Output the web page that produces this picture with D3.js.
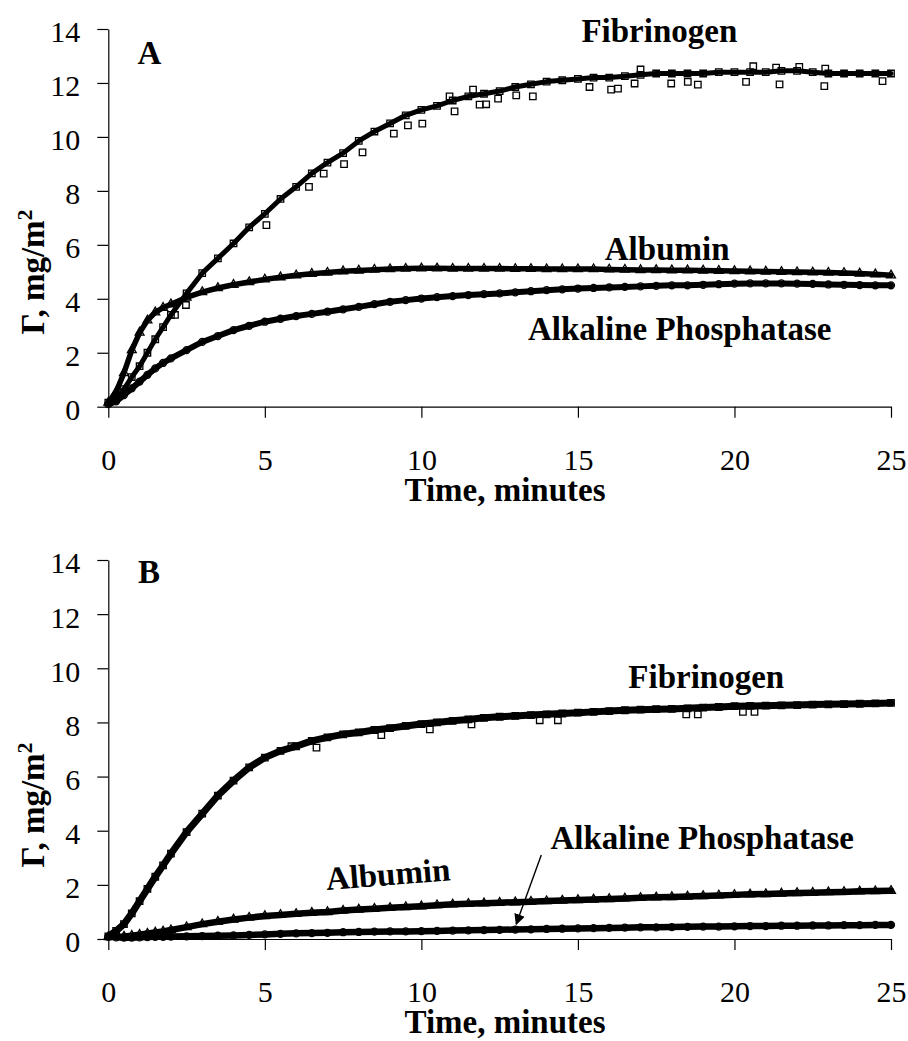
<!DOCTYPE html>
<html>
<head>
<meta charset="utf-8">
<script src="https://cdn.jsdelivr.net/npm/d3@7"></script>
</head>
<body style="margin:0;background:#fff">
<div id="vis"></div>
<script>
// time points (minutes) shared by every series
const timeGrid = [0, 0.25, 0.5, 0.75, 1, 1.25, 1.5, 1.75, 2, 2.5, 3, 3.5, 4, 4.5, 5, 5.5, 6, 6.5, 7, 7.5,
    8, 8.5, 9, 9.5, 10, 10.5, 11, 11.5, 12, 12.5, 13, 13.5, 14, 14.5, 15, 15.5, 16, 16.5, 17, 17.5,
    18, 18.5, 19, 19.5, 20, 20.5, 21, 21.5, 22, 22.5, 23, 23.5, 24, 24.5, 25];

// panel A, adsorbed amount (mg/m2)
const fibrinogenA = [0.15, 0.3, 0.65, 1.1, 1.5, 2.0, 2.5, 2.95, 3.4, 4.2, 4.95, 5.5, 6.05, 6.65, 7.15, 7.7, 8.15, 8.65, 9.05, 9.4,
    9.85, 10.2, 10.5, 10.8, 11.0, 11.15, 11.35, 11.5, 11.6, 11.7, 11.85, 11.95, 12.05, 12.1, 12.15, 12.2, 12.2, 12.25, 12.3, 12.35,
    12.35, 12.35, 12.35, 12.4, 12.4, 12.4, 12.4, 12.45, 12.45, 12.4, 12.35, 12.35, 12.35, 12.35, 12.35];
const albuminA = [0.15, 0.55, 1.25, 2.1, 2.75, 3.2, 3.5, 3.67, 3.8, 4.05, 4.25, 4.4, 4.52, 4.62, 4.72, 4.8, 4.87, 4.93, 4.97, 5.02,
    5.05, 5.08, 5.1, 5.12, 5.13, 5.13, 5.12, 5.12, 5.12, 5.12, 5.11, 5.11, 5.1, 5.1, 5.1, 5.1, 5.09, 5.08, 5.07, 5.07,
    5.06, 5.06, 5.05, 5.04, 5.03, 5.02, 5.01, 5.0, 4.99, 4.98, 4.97, 4.96, 4.94, 4.91, 4.87];
const alkPhosA = [0.1, 0.2, 0.43, 0.68, 0.93, 1.18, 1.42, 1.62, 1.79, 2.1, 2.4, 2.62, 2.84, 3.0, 3.15, 3.26, 3.36, 3.44, 3.52, 3.61,
    3.7, 3.8, 3.89, 3.95, 4.01, 4.06, 4.1, 4.14, 4.17, 4.2, 4.24, 4.28, 4.32, 4.35, 4.38, 4.4, 4.42, 4.44, 4.46, 4.48,
    4.5, 4.5, 4.52, 4.54, 4.56, 4.57, 4.57, 4.57, 4.56, 4.55, 4.53, 4.52, 4.51, 4.5, 4.5];
// stray fibrinogen squares seen off the band in panel A
const fibStrayTimeA = [2.13, 2.48, 5.05, 6.41, 6.88, 7.53, 8.12, 9.12, 9.57, 10.03, 10.9, 11.06, 11.65, 11.86, 12.07, 12.45,
    13.03, 13.56, 15.37, 16.06, 16.28, 16.81, 17.0, 17.98, 18.51, 18.83, 20.37, 20.6, 21.33, 21.44, 22.07, 22.87, 22.9, 24.73];
const fibStrayA = [3.4, 3.77, 6.73, 8.15, 8.64, 8.99, 9.43, 10.12, 10.43, 10.49, 11.5, 10.95, 11.75, 11.2, 11.21, 11.42,
    11.54, 11.5, 11.85, 11.75, 11.79, 11.98, 12.5, 11.98, 12.04, 11.94, 12.04, 12.62, 12.57, 11.95, 12.6, 11.88, 12.53, 12.07];

// panel B
const fibrinogenB = [0.1, 0.3, 0.55, 0.95, 1.4, 1.85, 2.3, 2.72, 3.15, 3.95, 4.63, 5.3, 5.85, 6.34, 6.7, 6.95, 7.12, 7.32, 7.45, 7.56,
    7.63, 7.72, 7.79, 7.87, 7.94, 8.0, 8.06, 8.11, 8.17, 8.21, 8.24, 8.27, 8.3, 8.33, 8.36, 8.39, 8.42, 8.45, 8.47, 8.49,
    8.5, 8.52, 8.55, 8.57, 8.6, 8.61, 8.62, 8.63, 8.64, 8.66, 8.67, 8.68, 8.69, 8.7, 8.72];
const albuminB = [0.08, 0.08, 0.09, 0.12, 0.16, 0.2, 0.24, 0.28, 0.33, 0.44, 0.55, 0.64, 0.72, 0.79, 0.85, 0.89, 0.93, 0.97, 1.0, 1.05,
    1.09, 1.12, 1.15, 1.18, 1.21, 1.25, 1.28, 1.3, 1.32, 1.34, 1.36, 1.38, 1.4, 1.42, 1.44, 1.46, 1.48, 1.5, 1.52, 1.54,
    1.55, 1.57, 1.59, 1.61, 1.63, 1.65, 1.66, 1.68, 1.7, 1.71, 1.73, 1.74, 1.76, 1.77, 1.78];
const alkPhosB = [0.08, 0.06, 0.05, 0.05, 0.06, 0.07, 0.08, 0.08, 0.09, 0.1, 0.11, 0.12, 0.13, 0.15, 0.17, 0.19, 0.21, 0.22, 0.23, 0.25,
    0.26, 0.27, 0.28, 0.28, 0.29, 0.3, 0.31, 0.32, 0.33, 0.34, 0.35, 0.36, 0.37, 0.38, 0.39, 0.4, 0.41, 0.42, 0.43, 0.43,
    0.44, 0.45, 0.46, 0.46, 0.47, 0.48, 0.48, 0.49, 0.49, 0.5, 0.5, 0.51, 0.51, 0.52, 0.52];
const fibStrayTimeB = [5.85, 6.65, 8.72, 10.27, 11.6, 13.78, 14.36, 18.46, 18.83, 20.27, 20.64];
const fibStrayB = [7.12, 7.07, 7.53, 7.74, 7.93, 8.08, 8.08, 8.3, 8.3, 8.39, 8.39];

const xTicks = [0, 5, 10, 15, 20, 25];
const yTicks = [0, 2, 4, 6, 8, 10, 12, 14];

const width = 908, height = 1041;
const serif = "'Liberation Serif', 'Times New Roman', serif";

let svg = d3.select("#vis")
    .append("svg")
    .attr("width", width)
    .attr("height", height)
    .style("display", "block");

svg.append("defs").append("marker")
    .attr("id", "arrow")
    .attr("viewBox", "0 0 10 10")
    .attr("refX", 9)
    .attr("refY", 5)
    .attr("markerWidth", 11)
    .attr("markerHeight", 11)
    .attr("markerUnits", "userSpaceOnUse")
    .attr("orient", "auto")
    .append("path")
    .attr("d", "M0,0 L10,5 L0,10 Z")
    .attr("fill", "#000");

// bold serif label
const note = (sel) => sel
    .attr("font-family", serif)
    .attr("font-weight", "bold")
    .attr("font-size", 33)
    .attr("fill", "#000")
    .attr("text-anchor", "middle");

const drawPanel = (p) => {
    let x = d3.scaleLinear().domain([0, 25]).range([108.3, 891]);
    let y = d3.scaleLinear().domain([0, 14]).range([p.bottom, p.top]);

    let g = svg.append("g");

    ////////// axes //////////
    let xAxis = g.append("g")
        .attr("transform", "translate(0," + p.bottom + ")")
        .call(d3.axisBottom(x).tickValues(xTicks).tickSize(11).tickSizeOuter(0));
    xAxis.selectAll("text").attr("y", 63).attr("dy", null);

    let yAxis = g.append("g")
        .attr("transform", "translate(108.3,0)")
        .call(d3.axisLeft(y).tickValues(yTicks).tickSize(11).tickSizeOuter(0));
    yAxis.selectAll("text").attr("x", -28).attr("dy", "0.43em");

    g.selectAll(".tick text")
        .attr("font-family", serif)
        .attr("font-size", 30)
        .attr("fill", "#000");
    g.selectAll(".tick line, .domain")
        .attr("stroke", "#000")
        .attr("stroke-width", 1.2)
        .attr("fill", "none");
    xAxis.attr("font-family", null).attr("font-size", null);
    yAxis.attr("font-family", null).attr("font-size", null);

    g.append("text")
        .call(note)
        .attr("x", 505)
        .attr("y", p.bottom + 94)
        .text("Time, minutes");

    let ylab = g.append("text")
        .call(note)
        .attr("transform", "translate(44," + p.ylabelY + ") rotate(-90)");
    ylab.append("tspan").text("Γ, mg/m");
    ylab.append("tspan").attr("dy", -12).attr("font-size", 22).text("2");

    ////////// series //////////
    const line = d3.line().x(d => x(d[0])).y(d => y(d[1]));

    p.series.forEach(s => {
        let pts = timeGrid.map((t, i) => [t, s.values[i]]);
        g.append("path")
            .datum(pts)
            .attr("fill", "none")
            .attr("stroke", "#000")
            .attr("stroke-width", s.band)
            .attr("stroke-linejoin", "round")
            .attr("stroke-linecap", "round")
            .attr("d", line);
        let sym = d3.symbol().type(s.symbol).size(s.size);
        let marks = s.stray ? pts.concat(s.strayTime.map((t, i) => [t, s.stray[i]])) : pts;
        g.selectAll(null)
            .data(marks)
            .enter()
            .append("path")
            .attr("transform", d => "translate(" + x(d[0]) + "," + y(d[1]) + ")")
            .attr("d", sym)
            .attr("fill", "none")
            .attr("stroke", "#000")
            .attr("stroke-width", 1.3);
    });

    ////////// labels //////////
    p.notes.forEach(n => {
        g.append("text")
            .call(note)
            .attr("transform", "translate(" + x(n.t) + "," + y(n.v) + ") rotate(" + (n.rot || 0) + ")")
            .text(n.text);
    });

    if (p.arrow) {
        g.append("line")
            .attr("x1", x(p.arrow[0])).attr("y1", y(p.arrow[1]))
            .attr("x2", x(p.arrow[2])).attr("y2", y(p.arrow[3]))
            .attr("stroke", "#000")
            .attr("stroke-width", 1.4)
            .attr("marker-end", "url(#arrow)");
    }
};

drawPanel({
    top: 29, bottom: 406.7, ylabelY: 272,
    series: [
        {values: alkPhosA, symbol: d3.symbolCircle, size: 38, band: 6},
        {values: albuminA, symbol: d3.symbolTriangle, size: 34, band: 5.5},
        {values: fibrinogenA, symbol: d3.symbolSquare, size: 42, band: 5, strayTime: fibStrayTimeA, stray: fibStrayA}
    ],
    notes: [
        {text: "A", t: 1.31, v: 12.69},
        {text: "Fibrinogen", t: 17.6, v: 13.52},
        {text: "Albumin", t: 17.85, v: 5.43},
        {text: "Alkaline Phosphatase", t: 18.25, v: 2.47}
    ]
});

drawPanel({
    top: 560, bottom: 939, ylabelY: 805,
    series: [
        {values: alkPhosB, symbol: d3.symbolCircle, size: 38, band: 6.5},
        {values: albuminB, symbol: d3.symbolTriangle, size: 34, band: 6.5},
        {values: fibrinogenB, symbol: d3.symbolSquare, size: 42, band: 7, strayTime: fibStrayTimeB, stray: fibStrayB}
    ],
    notes: [
        {text: "B", t: 1.3, v: 13.14},
        {text: "Fibrinogen", t: 19.1, v: 9.26},
        {text: "Alkaline Phosphatase", t: 18.97, v: 3.31},
        {text: "Albumin", t: 8.96, v: 1.99, rot: -4.5}
    ],
    arrow: [13.83, 3.1, 13.03, 0.55]
});
</script>
</body>
</html>
